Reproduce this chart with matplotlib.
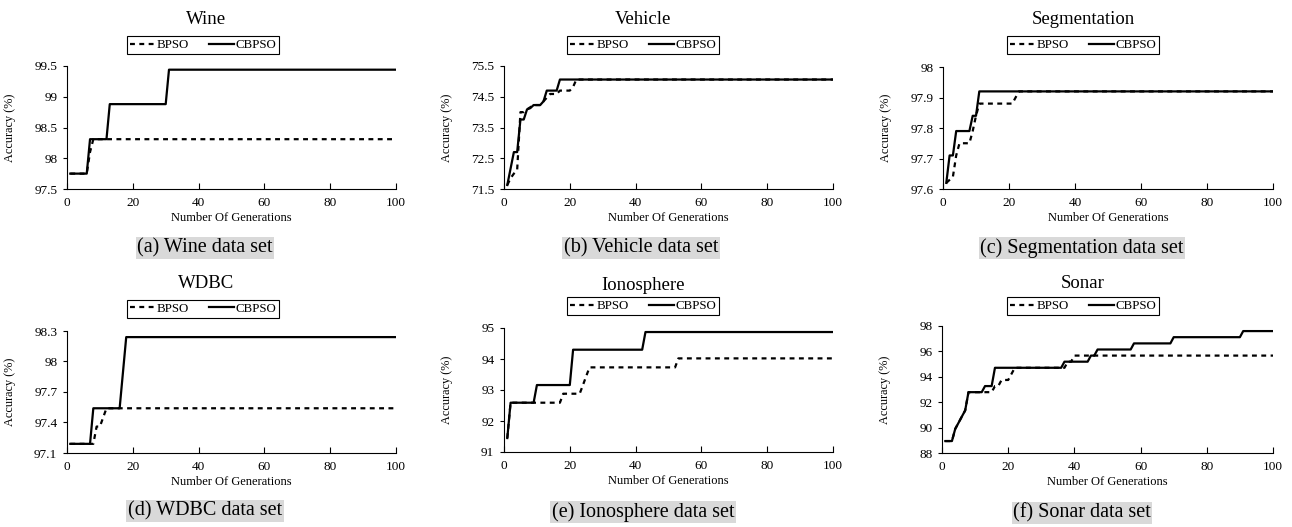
import matplotlib.pyplot as plt
from matplotlib.ticker import FuncFormatter

plt.rcParams.update({
    'font.family': 'Liberation Serif',
    'axes.linewidth': 0.8,
    'xtick.major.width': 0.8,
    'ytick.major.width': 0.8,
})

# ---- data: best accuracy (%) per generation, vertices of each curve ----
wine_gen_b = [1, 6, 7, 8, 100]
wine_acc_b = [97.75, 97.75, 98.10, 98.31, 98.31]
wine_gen_cb = [1, 6, 7, 12, 13, 30, 31, 100]
wine_acc_cb = [97.75, 97.75, 98.31, 98.31, 98.88, 98.88, 99.44, 99.44]

vehicle_gen_b = [1, 2, 3, 4, 5, 6, 7, 9, 11, 12, 14, 16, 17, 20, 21, 22, 100]
vehicle_acc_b = [71.63, 71.85, 72.00, 72.12, 74.00, 74.00, 74.09, 74.23, 74.23,
                 74.35, 74.59, 74.59, 74.70, 74.70, 74.82, 75.06, 75.06]
vehicle_gen_cb = [1, 3, 4, 5, 6, 7, 8, 9, 11, 12, 13, 16, 17, 100]
vehicle_acc_cb = [71.63, 72.70, 72.70, 73.76, 73.76, 74.09, 74.13, 74.23, 74.23,
                  74.35, 74.70, 74.70, 75.06, 75.06]

seg_gen_b = [1, 3, 4, 5, 8, 9, 10, 11, 21, 22, 23, 100]
seg_acc_b = [97.62, 97.64, 97.71, 97.75, 97.75, 97.79, 97.84, 97.88, 97.88,
             97.90, 97.92, 97.92]
seg_gen_cb = [1, 2, 3, 4, 8, 9, 10, 11, 100]
seg_acc_cb = [97.62, 97.71, 97.71, 97.79, 97.79, 97.84, 97.84, 97.92, 97.92]

wdbc_gen_b = [1, 8, 9, 10, 11, 12, 100]
wdbc_acc_b = [97.19, 97.19, 97.36, 97.36, 97.45, 97.54, 97.54]
wdbc_gen_cb = [1, 7, 8, 16, 18, 100]
wdbc_acc_cb = [97.19, 97.19, 97.54, 97.54, 98.24, 98.24]

iono_gen_b = [1, 2, 17, 18, 23, 24, 25, 26, 52, 53, 100]
iono_acc_b = [91.45, 92.59, 92.59, 92.88, 92.88, 93.16, 93.45, 93.73, 93.73,
              94.02, 94.02]
iono_gen_cb = [1, 2, 9, 10, 20, 21, 42, 43, 100]
iono_acc_cb = [91.45, 92.59, 92.59, 93.16, 93.16, 94.30, 94.30, 94.87, 94.87]

sonar_gen_b = [1, 3, 4, 5, 6, 7, 8, 15, 16, 17, 18, 20, 21, 22, 37, 38, 39,
               40, 100]
sonar_acc_b = [88.94, 88.94, 89.90, 90.38, 90.87, 91.35, 92.79, 92.79, 93.27,
               93.27, 93.75, 93.75, 94.23, 94.71, 94.71, 95.19, 95.19, 95.67,
               95.67]
sonar_gen_cb = [1, 3, 4, 5, 6, 7, 8, 12, 13, 15, 16, 36, 37, 44, 45, 46, 47,
                57, 58, 69, 70, 90, 91, 100]
sonar_acc_cb = [88.94, 88.94, 89.90, 90.38, 90.87, 91.35, 92.79, 92.79, 93.27,
                93.27, 94.71, 94.71, 95.19, 95.19, 95.67, 95.67, 96.15, 96.15,
                96.63, 96.63, 97.12, 97.12, 97.60, 97.60]

titles = ['Wine', 'Vehicle', 'Segmentation', 'WDBC', 'Ionosphere', 'Sonar']
captions = ['(a) Wine data set', '(b) Vehicle data set',
            '(c) Segmentation data set', '(d) WDBC data set',
            '(e) Ionosphere data set', '(f) Sonar data set']
yticks = [[97.5, 98, 98.5, 99, 99.5],
          [71.5, 72.5, 73.5, 74.5, 75.5],
          [97.6, 97.7, 97.8, 97.9, 98],
          [97.1, 97.4, 97.7, 98, 98.3],
          [91, 92, 93, 94, 95],
          [88, 90, 92, 94, 96, 98]]
series = [(wine_gen_b, wine_acc_b, wine_gen_cb, wine_acc_cb),
          (vehicle_gen_b, vehicle_acc_b, vehicle_gen_cb, vehicle_acc_cb),
          (seg_gen_b, seg_acc_b, seg_gen_cb, seg_acc_cb),
          (wdbc_gen_b, wdbc_acc_b, wdbc_gen_cb, wdbc_acc_cb),
          (iono_gen_b, iono_acc_b, iono_gen_cb, iono_acc_cb),
          (sonar_gen_b, sonar_acc_b, sonar_gen_cb, sonar_acc_cb)]

# ---- layout in pixels (left, top, right, bottom) of each axes ----
W, H = 1292, 527
axes_px = [(67, 66, 396, 189), (504, 66, 833, 189), (943, 67, 1273, 189),
           (67, 331, 396, 453), (504, 328, 833, 452), (942, 326, 1273, 453)]
title_px = [(206, 20), (643, 20), (1083, 20), (206, 284), (643, 285), (1083, 284)]
legend_px = [(203, 45), (643, 45), (1083, 45), (203, 309), (643, 306), (1083, 306)]
caption_px = [(205, 248), (641, 248), (1082, 248), (205, 511), (643, 512), (1082, 513)]

fig = plt.figure(figsize=(W / 100, H / 100), dpi=100)

for i in range(6):
    l, t, r, b = axes_px[i]
    ax = fig.add_axes([l / W, 1 - b / H, (r - l) / W, (b - t) / H])
    gb, ab, gc, ac = series[i]
    ax.plot(gc, ac, color='black', lw=1.6, label='CBPSO')
    ax.plot(gb, ab, color='black', lw=1.6, ls=(0, (2.2, 2.0)), label='BPSO')

    ax.set_xlim(0, 100)
    ax.set_xticks([0, 20, 40, 60, 80, 100])
    ax.set_ylim(yticks[i][0], yticks[i][-1])
    ax.set_yticks(yticks[i])
    ax.yaxis.set_major_formatter(FuncFormatter(lambda v, p: f'{v:g}'))
    ax.tick_params(axis='x', direction='in', length=4, labelsize=9.5, pad=6)
    ax.tick_params(axis='y', direction='out', length=3, labelsize=9.5, pad=4)
    for s in ['top', 'right']:
        ax.spines[s].set_visible(False)

    ax.set_xlabel('Number Of Generations', fontsize=9, labelpad=2)
    ax.set_ylabel('Accuracy (%)', fontsize=8.8)
    ax.yaxis.set_label_coords(-51 / (r - l), 0.5)

    handles, labels = ax.get_legend_handles_labels()
    lx, ly = legend_px[i]
    leg = ax.legend(handles[::-1], labels[::-1], loc='center',
                    bbox_to_anchor=(lx / W, 1 - ly / H),
                    bbox_transform=fig.transFigure, ncol=2, fontsize=9.3,
                    frameon=True, fancybox=False, edgecolor='black',
                    framealpha=1, handlelength=1.9, handletextpad=0.15,
                    columnspacing=1.6, borderpad=0.2, borderaxespad=0)
    leg.get_frame().set_linewidth(0.8)

    tx, ty = title_px[i]
    fig.text(tx / W, 1 - ty / H, titles[i], ha='center', va='center', fontsize=13.5)
    cx, cy = caption_px[i]
    fig.text(cx / W, 1 - cy / H, captions[i], ha='center', va='center',
             fontsize=14.5,
             bbox=dict(boxstyle='square,pad=0.08', fc='#d9d9d9', ec='none'))

fig.savefig('out.png', dpi=100)
